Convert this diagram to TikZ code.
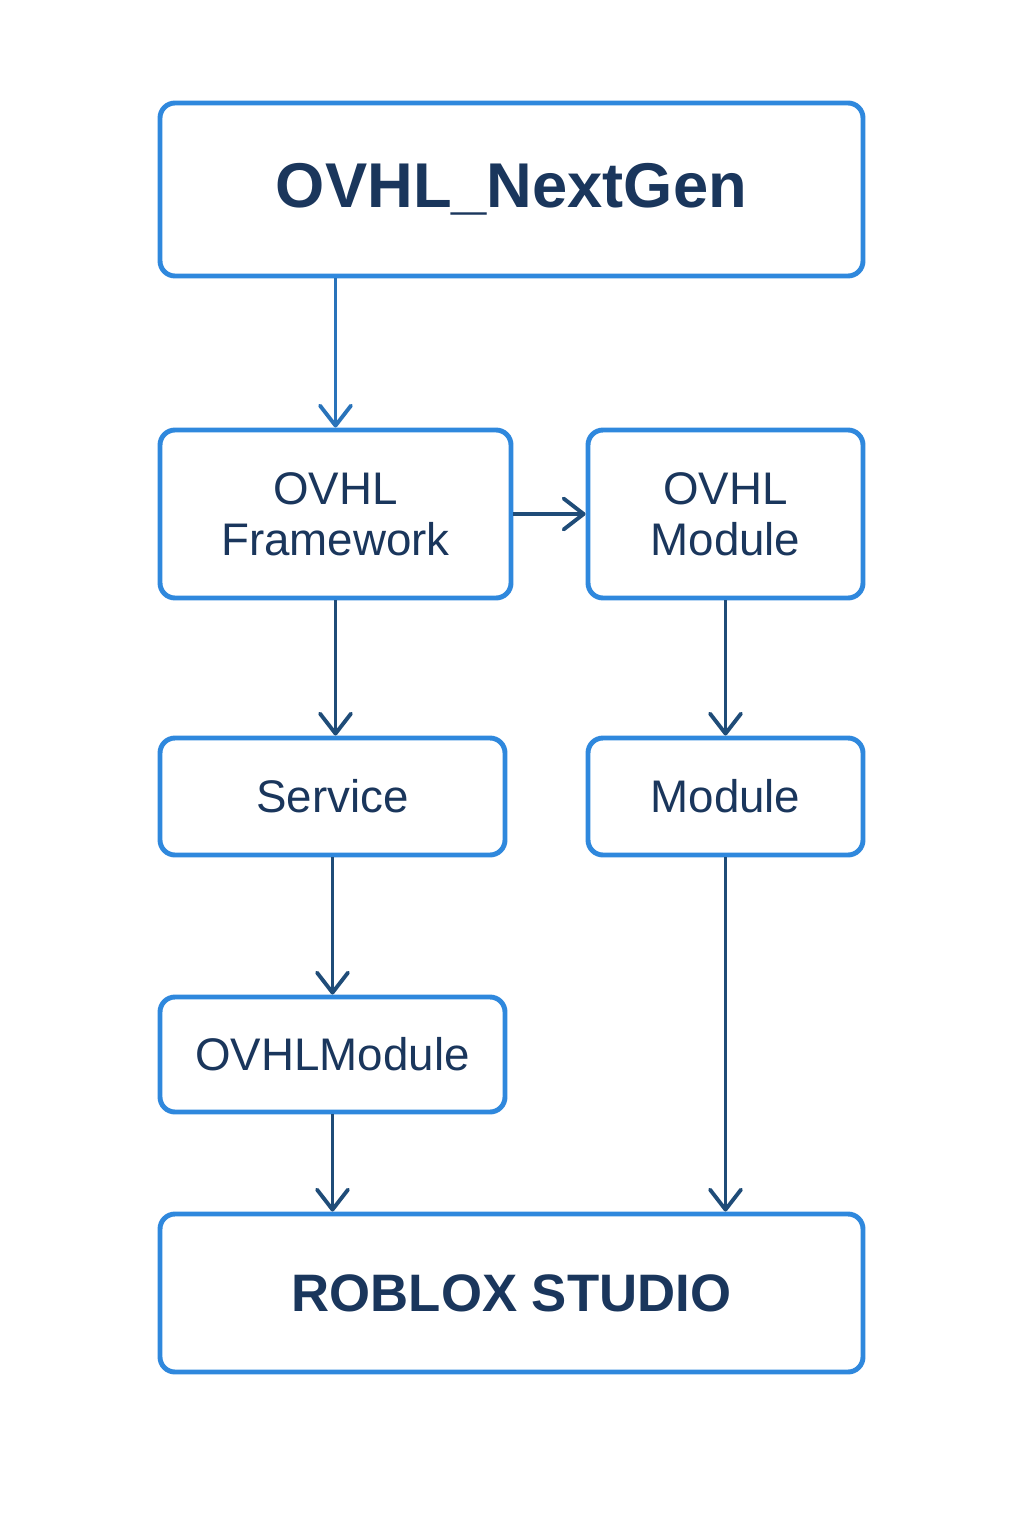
\documentclass[tikz,border=0pt]{standalone}
\usepackage{fontspec}
\setmainfont{Liberation Sans}
\usetikzlibrary{arrows.meta, positioning, calc}
\definecolor{boxblue}{HTML}{2F88DD}
\definecolor{navy}{HTML}{1F4C78}
\definecolor{textnavy}{HTML}{1A365C}

\begin{document}
\begin{tikzpicture}[
        every node/.style={draw=boxblue, line width=2.8pt, rounded corners=0.3cm, align=center, text=textnavy, fill=white},
        arrow/.style={line width=2.2pt, navy, -{Straight Barb[length=0.4cm, width=0.62cm, line cap=round, line join=round]}},
        bigtext/.style={font=\fontsize{36}{40}\selectfont\bfseries},
        small/.style={font=\fontsize{26}{29}\selectfont}
      ]
        \useasboundingbox (0,0) rectangle (20.48,-30.72);

        % Boxes
        \node (nextgen) [bigtext, minimum width=14.06cm, minimum height=3.46cm] at (10.23,-3.79) {OVHL\_NextGen};
        \node (framework) [small, minimum width=7.02cm, minimum height=3.36cm] at (6.71,-10.28) {OVHL\\Framework};
        \node (ovhlmod) [small, minimum width=5.50cm, minimum height=3.36cm] at (14.51,-10.28) {OVHL\\Module};
        \node (service) [small, minimum width=6.90cm, minimum height=2.34cm] at (6.65,-15.93) {Service};
        \node (module) [small, minimum width=5.50cm, minimum height=2.34cm] at (14.51,-15.93) {Module};
        \node (ovhlmodule) [small, minimum width=6.90cm, minimum height=2.30cm] at (6.65,-21.09) {OVHLModule};
        \node (roblox) [bigtext, font=\fontsize{30}{34}\selectfont\bfseries, minimum width=14.06cm, minimum height=3.16cm] at (10.23,-25.86) {ROBLOX STUDIO};

        % Arrows
        \draw [arrow, boxblue!65!navy] (nextgen.south -| framework.north) -- (framework.north);
        \draw [arrow] (framework.east) -- (ovhlmod.west);
        \draw [arrow] (framework.south) -- (framework.south |- service.north);
        \draw [arrow] (ovhlmod.south) -- (module.north);
        \draw [arrow] (service.south) -- (ovhlmodule.north);
        \draw [arrow] (ovhlmodule.south) -- (ovhlmodule.south |- roblox.north);
        \draw [arrow] (module.south) -- (module.south |- roblox.north);
      \end{tikzpicture}
\end{document}
